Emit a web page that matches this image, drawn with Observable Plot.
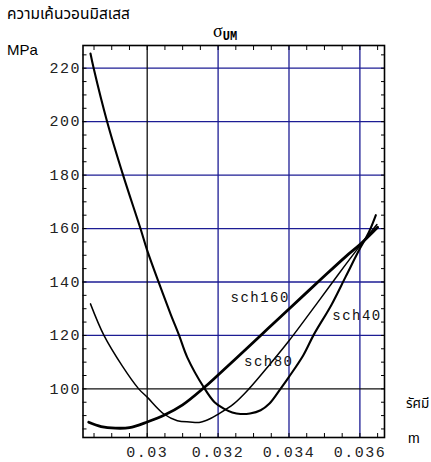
<!DOCTYPE html>
<html>
<head>
<meta charset="utf-8">
<script src="https://cdn.jsdelivr.net/npm/d3@7"></script>
<script src="https://cdn.jsdelivr.net/npm/@observablehq/plot@0.6"></script>
<style>
  html, body { margin: 0; padding: 0; background: #fff; }
  #wrap { position: relative; width: 431px; height: 462px; overflow: hidden; }
  #wrap svg { position: absolute; left: 0; top: 0; }
  .lbl { position: absolute; line-height: 1; white-space: nowrap; color: #000; }
  .thai { font-family: "Noto Sans Thai", "Noto Sans", sans-serif; font-size: 15.5px; }
  .thai2 { font-family: "Noto Sans Thai", "Noto Sans", sans-serif; font-size: 13.5px; }
  .sans { font-family: "Liberation Sans", Arial, sans-serif; font-size: 15px; }
  .sans2 { font-family: "Liberation Sans", Arial, sans-serif; font-size: 14px; }
  [aria-label="x-axis tick label"] text, [aria-label="y-axis tick label"] text, [aria-label="text"] text { letter-spacing: 1.5px; }
</style>
</head>
<body>
<div id="wrap"></div>
<script>
// ---- data ----
const sch40X = [0.02840,0.02849,0.02887,0.02932,0.02981,0.03000,0.03032,0.03066,0.03090,0.03113,0.03160,0.03190,0.03216,0.03240,0.03263,0.03290,0.03320,0.03345,0.03376,0.03400,0.03440,0.03470,0.03520,0.03560,0.03600,0.03625,0.03645];
const sch40Y = [225.5,220,200,180,160,151.8,140,128,120,111.8,100.5,95,92.6,91.2,90.6,90.8,92,94.5,100,104.5,112.5,120.3,131.5,142,152.5,158.5,165];

const sch80X = [0.02840,0.02878,0.02930,0.02976,0.03000,0.03047,0.03085,0.03120,0.03150,0.03180,0.03197,0.03244,0.03287,0.03348,0.03400,0.03479,0.03540,0.03600,0.03648];
const sch80Y = [131.8,120,108.5,100,96.9,90.6,88.1,87.6,87.5,89,90.3,94.4,100,109.5,118,132,143,153.5,161.5];

const sch160X = [0.02835,0.02870,0.02910,0.02950,0.03000,0.03050,0.03100,0.03160,0.03200,0.03280,0.03340,0.03400,0.03490,0.03560,0.03600,0.03650];
const sch160Y = [87.5,85.9,85.3,85.5,87.6,90.3,94,100.4,105.2,115,122.5,129.9,141,149.5,154,160.5];

const labelNames = ["sch160", "sch80", "sch40"];
const labelX = [0.03235, 0.03273, 0.03522];
const labelY = [134.3, 110.3, 127.4];

const xTickLabels = [0.03, 0.032, 0.034, 0.036];
const yTickLabels = [100, 120, 140, 160, 180, 200, 220];
const xBlueGrid = [0.032, 0.034, 0.036];
const yBlueGrid = [120, 140, 160, 180, 200, 220];
const xAxisLine = [0.03];
const yAxisLine = [100];
const xMinorTicks = d3.range(57, 74).map(k => k * 0.0005);
const yMinorTicks = d3.range(17, 46).map(k => k * 5);

// ---- build rows ----
const rows = [
  ...sch40X.map((x, i) => ({series: "sch40", x, y: sch40Y[i]})),
  ...sch80X.map((x, i) => ({series: "sch80", x, y: sch80Y[i]})),
  ...sch160X.map((x, i) => ({series: "sch160", x, y: sch160Y[i]}))
];
const labels = labelNames.map((t, i) => ({t, x: labelX[i], y: labelY[i]}));

const TL = 4;
const mono = "'Liberation Mono', 'DejaVu Sans Mono', monospace";
const blank = () => "";

const chart = Plot.plot({
  width: 431,
  height: 462,
  marginLeft: 82.5,
  marginRight: 47,
  marginTop: 45,
  marginBottom: 25,
  x: {domain: [0.028189, 0.036694], axis: null},
  y: {domain: [81.8, 228.5], axis: null},
  marks: [
    Plot.ruleX(xBlueGrid, {stroke: "#1c1c94", strokeWidth: 1.3}),
    Plot.ruleY(yBlueGrid, {stroke: "#1c1c94", strokeWidth: 1.3}),
    Plot.ruleX(xAxisLine, {stroke: "#111", strokeWidth: 1.3}),
    Plot.ruleY(yAxisLine, {stroke: "#111", strokeWidth: 1.3}),
    Plot.axisX(xMinorTicks, {anchor: "bottom", tickSize: TL, dy: -TL, tickFormat: blank, label: null, stroke: "black"}),
    Plot.axisX(xMinorTicks, {anchor: "top", tickSize: TL, dy: TL, tickFormat: blank, label: null, stroke: "black"}),
    Plot.axisY(yMinorTicks, {anchor: "left", tickSize: TL, dx: TL, tickFormat: blank, label: null, stroke: "black"}),
    Plot.axisY(yMinorTicks, {anchor: "right", tickSize: TL, dx: -TL, tickFormat: blank, label: null, stroke: "black"}),
    Plot.frame({stroke: "black", strokeWidth: 1.6}),
    Plot.line(rows.filter(d => d.series === "sch80"), {x: "x", y: "y", stroke: "black", strokeWidth: 1.5, curve: "catmull-rom"}),
    Plot.line(rows.filter(d => d.series === "sch40"), {x: "x", y: "y", stroke: "black", strokeWidth: 2.1, curve: "catmull-rom"}),
    Plot.line(rows.filter(d => d.series === "sch160"), {x: "x", y: "y", stroke: "black", strokeWidth: 2.8, curve: "catmull-rom"}),
    Plot.text(labels, {x: "x", y: "y", text: "t", textAnchor: "start", fontFamily: mono, fontSize: 14, fill: "#111"}),
    Plot.axisX(xTickLabels, {anchor: "bottom", tickSize: 0, tickPadding: 9, tickFormat: d => String(d), fontFamily: mono, fontSize: 15, fill: "#222", label: null}),
    Plot.axisY(yTickLabels, {anchor: "left", tickSize: 0, tickPadding: 2, tickFormat: d => String(d), fontFamily: mono, fontSize: 15, fill: "#222", label: null})
  ]
});

const wrap = document.getElementById("wrap");
wrap.appendChild(chart);

function addLabel(html, cls, left, top) {
  const d = document.createElement("div");
  d.className = "lbl " + cls;
  d.style.left = left + "px";
  d.style.top = top + "px";
  d.innerHTML = html;
  wrap.appendChild(d);
}
addLabel("ความเค้นวอนมิสเสส", "thai", 7, 7);
addLabel("MPa", "sans", 7, 42);
addLabel("รัศมี", "thai2", 406, 398);
addLabel("m", "sans2", 408, 431);
addLabel('<span style="font-family:\'Liberation Serif\',serif;font-size:18px;">σ</span><span style="font-family:\'Liberation Mono\',monospace;font-weight:bold;font-size:12px;position:relative;top:3px;">UM</span>', "", 213, 22);
</script>
</body>
</html>
